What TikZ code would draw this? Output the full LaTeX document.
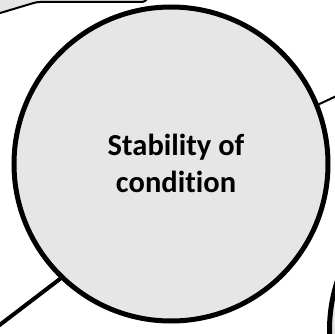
\documentclass[tikz,border=0pt]{standalone}
\usepackage{fontspec}
\setmainfont[Ligatures=NoCommon]{Carlito}
\usetikzlibrary{shapes,positioning,calc}
\definecolor{lightbg}{HTML}{E6E6E6}
\definecolor{rim}{HTML}{000000}

\begin{document}
\begin{tikzpicture}[x=1pt, y=1pt,
  ring/.style={circle, draw=rim, line width=5pt, fill=lightbg, minimum size=314pt, inner sep=0pt},
  link/.style={draw=rim, line cap=round}]
  \useasboundingbox (0,0) rectangle (335,333);
  \clip (0,0) rectangle (335,333);
  % Box cut off at the top
  \fill[lightbg] (-40,308) -- (37,331) -- (145,331) -- (152,342) -- (152,360) -- (-40,360) -- cycle;
  \draw[rim, line width=2pt, rounded corners=3pt] (-40,308) -- (37,331) -- (145,331) -- (152,342);
  % Main circle
  \node[ring] (cond) at (171,169) {};
  \node[font=\bfseries\fontsize{30.5}{37}\selectfont, align=center] (condtxt) at (176,170) {Stability of\\condition};
  % Neighbour circle
  \node[ring] (next) at (486.5,3) {};
  % Links leaving the frame
  \coordinate (outNE) at (360,248);
  \coordinate (outSW) at (-20,-7);
  \draw[link, line width=2pt] (cond.22) -- (outNE);
  \draw[link, line width=4pt] (cond.226) -- (outSW);
\end{tikzpicture}
\end{document}
